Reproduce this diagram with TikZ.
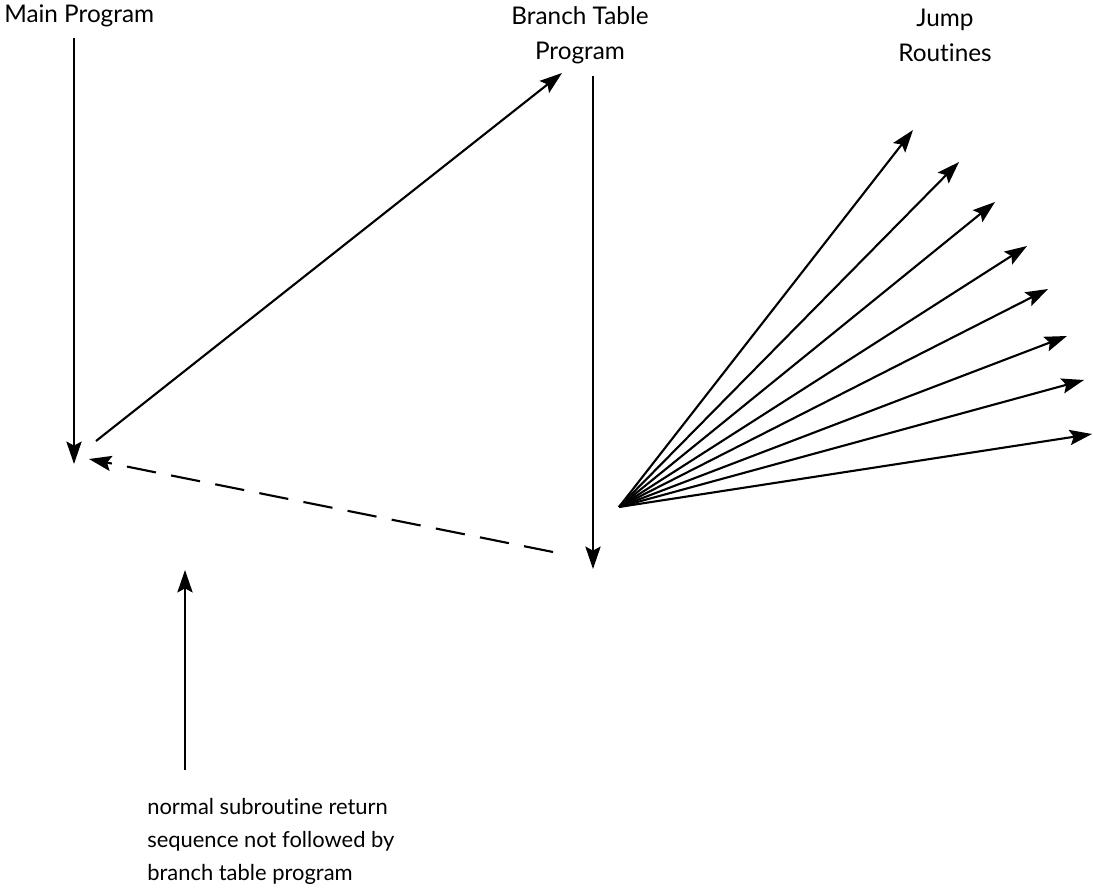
\documentclass[tikz,border=0pt]{standalone}
\usepackage{fontspec}
\setmainfont[Ligatures=NoCommon]{Lato}
\usetikzlibrary{positioning}
\usetikzlibrary{arrows.meta}

\tikzset{
  flow/.style={line width=1.5pt, -{Stealth[length=5.6mm,width=3.8mm,inset=1mm]}},
  heading/.style={inner sep=0pt, font={\fontsize{17.3}{25}\selectfont}},
}

\begin{document}
\begin{tikzpicture}[x=0.025cm, y=-0.025cm]
    \useasboundingbox (0,0) rectangle (1093,892);

    % headings
    \node[heading, anchor=west] (mp) at (4,16) {Main Program};
    \node[heading, align=center] (bt) at (580,35) {Branch Table\\Program};
    \node[heading, align=center] (jr) at (945,35) {Jump\\Routines};

    \coordinate (mtop) at (74,38);
    \coordinate (mbot) at (74,464);
    \coordinate (call) at (96,441);
    \coordinate (bin) at (562,73);
    \coordinate (btop) at (593,76);
    \coordinate (bbot) at (593,569);
    \coordinate (ret) at (553,552);
    \coordinate (back) at (89,459);
    \coordinate (fan) at (619,507);

    \draw[flow] (mtop) -- (mbot);
    \draw[flow] (call) -- (bin);
    \draw[flow] (btop) -- (bbot);
    \draw[flow, dash pattern=on 21pt off 11pt] (ret) -- (back);

    % jump fan
    \foreach \i/\x/\y in {1/913/130, 2/959/162, 3/995/202, 4/1027/246,
                          5/1048/289, 6/1067/336, 7/1084/380, 8/1092/434} {
      \coordinate (j\i) at (\x,\y);
      \draw[flow] (fan) -- (j\i);
    }

    % note
    \coordinate (nbot) at (185,770);
    \coordinate (ntop) at (185,570);
    \draw[flow] (nbot) -- (ntop);
    \node[heading, align=left, anchor=west, font={\fontsize{15.6}{23.5}\selectfont}] (note) at (147,841)
      {normal subroutine return\\sequence not followed by\\branch table program};
\end{tikzpicture}
\end{document}
